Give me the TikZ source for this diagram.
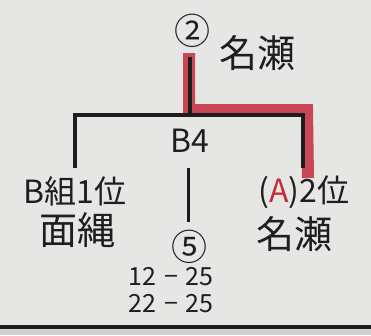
\documentclass[tikz,border=0pt]{standalone}
\usepackage{fontspec}
\setmainfont{Noto Sans CJK JP}
\definecolor{paper}{HTML}{E6E6E4}
\definecolor{marker}{HTML}{C42A3C}
\definecolor{ink}{HTML}{1E1E1E}

\begin{document}
\begin{tikzpicture}[x=1pt,y=-1pt,
	]

	\tikzset{bracket/.style={draw=ink,line width=4pt}}
	\tikzset{win path/.style={draw=marker,line width=12pt,opacity=0.85,line join=miter}}
	\tikzset{label/.style={inner sep=0pt,text=ink,font=\fontsize{32}{32}\selectfont}}
	\tikzset{circled/.style={inner sep=0pt,text=ink,font=\fontsize{36}{36}\selectfont}}
	\tikzset{hand/.style={inner sep=0pt,text=ink,font=\fontsize{38}{38}\selectfont}}
	\tikzset{score/.style={inner sep=0pt,text=ink,font=\fontsize{25}{25}\selectfont}}

	% paper
	\fill[paper] (0,0) rectangle (371,335);
	\fill[black!18] (0,329) rectangle (371,335);
	\useasboundingbox (0,0) rectangle (371,335);

	% points of the bracket
	\coordinate (top) at (190,57);
	\coordinate (mid) at (190,115);
	\coordinate (lft) at (75,115);
	\coordinate (rgt) at (303,115);
	\coordinate (lftend) at (75,168);
	\coordinate (rgtend) at (303,168);
	\coordinate (stemtop) at (188,168);
	\coordinate (stembot) at (188,222);

	% winner marked in red
	\draw[win path] (189,53) -- (189,110) -- (307,110) -- (308,178);

	\draw[bracket] (top) -- (mid);
	\draw[bracket] (lftend) -- (lft) -- (rgt) -- (rgtend);
	\draw[bracket,line width=3pt] (stemtop) -- (stembot);

	\node[circled] (win) at (192,31) {②};
	\node[hand] (winname) at (257,53) {名瀬};

	\node[label] (match) at (190,141) {B4};
	\node[circled] (court) at (189,247) {⑤};

	\node[label] (teamL) at (75,191) {B組1位};
	\node[hand] (nameL) at (77,230) {面縄};

	\node[label] (teamR) at (304,192) {(\textcolor{marker}{A})2位};
	\node[hand] (nameR) at (294,234) {名瀬};

	\node[score] (set1) at (171,277) {12\hspace{8pt}−\hspace{8pt}25};
	\node[score] (set2) at (171,304) {22\hspace{8pt}−\hspace{8pt}25};

	% rule at the foot
	\draw[ink,line width=3.5pt] (0,327) -- (371,327);

\end{tikzpicture}
\end{document}
